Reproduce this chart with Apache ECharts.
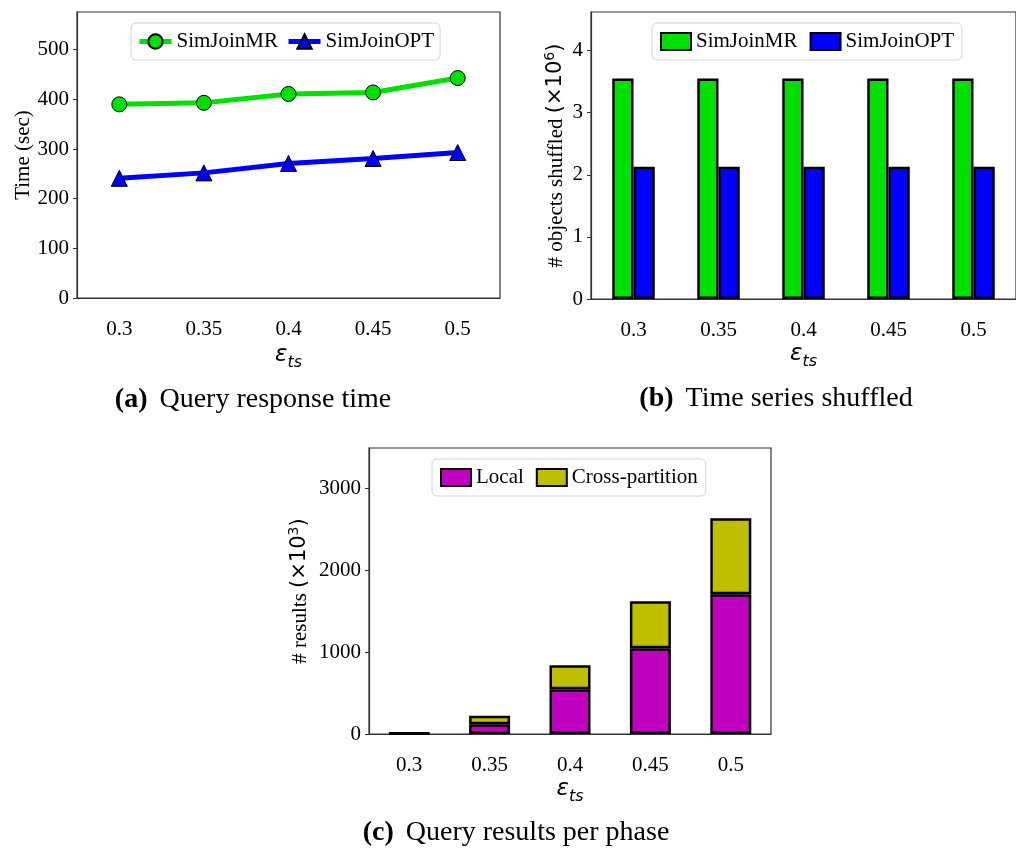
<!DOCTYPE html>
<html>
<head>
<meta charset="utf-8">
<style>
  html, body { margin: 0; padding: 0; background: #fff; }
  #chart { width: 1016px; height: 849px; }
</style>
<script src="https://cdn.jsdelivr.net/npm/echarts@6/dist/echarts.min.js"></script>
</head>
<body>
<div id="chart"></div>
<script>
// Similarity-join experiments against the threshold epsilon_ts
const categories = ['0.3', '0.35', '0.4', '0.45', '0.5'];

// (a) query response time, seconds
const timeMR = [390, 393, 411, 414, 443];
const timeOPT = [241, 252, 271, 281, 293];
const timeTicks = [0, 100, 200, 300, 400, 500];

// (b) objects shuffled, millions
const shuffledMR = [3.55, 3.55, 3.55, 3.55, 3.55];
const shuffledOPT = [2.13, 2.13, 2.13, 2.13, 2.13];
const shuffledTicks = [0, 1, 2, 3, 4];

// (c) query results per phase, thousands
const resultsLocal = [8, 118, 546, 1046, 1706];
const resultsCross = [4, 106, 293, 574, 928];
const resultsTicks = [0, 1000, 2000, 3000];

const SERIF = '"Liberation Serif", "Times New Roman", serif';
const SANS = '"DejaVu Sans", sans-serif';
const FRAME = '#333';
const TICK_FONT = 21;

const C_GREEN = '#00e000';
const C_BLUE = '#0000ff';
const C_MAGENTA = '#bf00bf';
const C_OLIVE = '#bfbf00';

// italic epsilon with "ts" subscript
const epsName = {
  name: '{e|ε}{s|ts}',
  nameTextStyle: {
    rich: {
      e: { fontFamily: SANS, fontStyle: 'italic', fontSize: 23, color: '#000', padding: [0, 0, 4, 0] },
      s: { fontFamily: SANS, fontStyle: 'italic', fontSize: 16, color: '#000', padding: [10, 0, 0, 0] }
    }
  }
};

function xAxisFor(gridIndex, labelMargin, nameGap) {
  return Object.assign({
    type: 'category',
    gridIndex: gridIndex,
    data: categories,
    boundaryGap: true,
    nameLocation: 'middle',
    nameGap: nameGap,
    axisLine: { lineStyle: { color: FRAME, width: 1.2 } },
    axisTick: { alignWithLabel: true, length: 4, lineStyle: { color: FRAME } },
    axisLabel: { fontFamily: SERIF, fontSize: TICK_FONT, color: '#000', margin: labelMargin },
    splitLine: { show: false }
  }, epsName);
}

function yAxisFor(gridIndex, max, ticks, name, rich, nameGap) {
  return {
    type: 'value',
    gridIndex: gridIndex,
    min: 0,
    max: max,
    name: name,
    nameLocation: 'middle',
    nameRotate: 90,
    nameGap: nameGap,
    nameTextStyle: { fontFamily: SERIF, fontSize: 21, color: '#000', rich: rich },
    axisLine: { show: true, lineStyle: { color: FRAME, width: 1.2 } },
    axisTick: { show: true, length: 4, customValues: ticks, lineStyle: { color: FRAME } },
    axisLabel: {
      fontFamily: SERIF, fontSize: TICK_FONT, color: '#000', margin: 8,
      customValues: ticks,
      formatter: function (v) { return String(v); }
    },
    splitLine: { show: false }
  };
}

const legendBase = {
  orient: 'horizontal',
  padding: [8, 8],
  itemGap: 12,
  borderColor: '#d4d4d4',
  borderWidth: 1,
  borderRadius: 5,
  backgroundColor: '#fff',
  textStyle: { fontFamily: SERIF, fontSize: 21, color: '#000' }
};

const patchStyle = { borderColor: '#000', borderWidth: 2 };

const chart = echarts.init(document.getElementById('chart'), null, { renderer: 'canvas' });

chart.setOption({
  animation: false,
  backgroundColor: '#fff',
  grid: [
    { left: 77, top: 12, right: 516, bottom: 551, show: true, borderColor: FRAME, borderWidth: 1.2 },
    { left: 591, top: 12, right: -12, bottom: 550, show: true, borderColor: FRAME, borderWidth: 1.2 },
    { left: 369, top: 448, right: 245, bottom: 115, show: true, borderColor: FRAME, borderWidth: 1.2 }
  ],
  xAxis: [
    xAxisFor(0, 21, 46),
    xAxisFor(1, 21, 44),
    xAxisFor(2, 21, 44)
  ],
  yAxis: [
    yAxisFor(0, 576, timeTicks, 'Time (sec)', null, 42),
    yAxisFor(1, 4.62, shuffledTicks, '{t|# objects shuffled }{m|(×10}{p|6}{m|)}', {
      t: { fontFamily: SERIF, fontSize: 21, color: '#000' },
      m: { fontFamily: SANS, fontSize: 21, color: '#000' },
      p: { fontFamily: SANS, fontSize: 14, color: '#000', padding: [0, 0, 12, 0] }
    }, 22),
    yAxisFor(2, 3490, resultsTicks, '{t|# results }{m|(×10}{p|3}{m|)}', {
      t: { fontFamily: SERIF, fontSize: 21, color: '#000' },
      m: { fontFamily: SANS, fontSize: 21, color: '#000' },
      p: { fontFamily: SANS, fontSize: 14, color: '#000', padding: [0, 0, 12, 0] }
    }, 56)
  ],
  legend: [
    Object.assign({}, legendBase, {
      left: 131, top: 23,
      itemWidth: 32, itemHeight: 18,
      itemGap: 8,
      padding: [8, 6],
      data: [
        { name: 'SimJoinMR', lineStyle: { width: 5 } },
        { name: 'SimJoinOPT', lineStyle: { width: 5 } }
      ]
    }),
    Object.assign({}, legendBase, {
      left: 652, top: 23,
      itemWidth: 30, itemHeight: 17,
      icon: 'rect',
      data: [
        { name: 'SimJoinMR ', itemStyle: patchStyle },
        { name: 'SimJoinOPT ', itemStyle: patchStyle }
      ],
      formatter: function (n) { return n.trim(); }
    }),
    Object.assign({}, legendBase, {
      left: 432, top: 459,
      itemWidth: 30, itemHeight: 17,
      icon: 'rect',
      data: [
        { name: 'Local', itemStyle: patchStyle },
        { name: 'Cross-partition', itemStyle: patchStyle }
      ]
    })
  ],
  series: [
    {
      name: 'SimJoinMR', type: 'line', xAxisIndex: 0, yAxisIndex: 0,
      data: timeMR,
      symbol: 'circle', symbolSize: 15,
      lineStyle: { color: C_GREEN, width: 5 },
      itemStyle: { color: C_GREEN, borderColor: '#000', borderWidth: 1 }
    },
    {
      name: 'SimJoinOPT', type: 'line', xAxisIndex: 0, yAxisIndex: 0,
      data: timeOPT,
      symbol: 'triangle', symbolSize: 16,
      lineStyle: { color: C_BLUE, width: 5 },
      itemStyle: { color: C_BLUE, borderColor: '#000', borderWidth: 1 }
    },
    {
      name: 'SimJoinMR ', type: 'bar', xAxisIndex: 1, yAxisIndex: 1,
      data: shuffledMR,
      barWidth: '25%', barGap: '0%',
      itemStyle: { color: C_GREEN, borderColor: '#000', borderWidth: 2.5 }
    },
    {
      name: 'SimJoinOPT ', type: 'bar', xAxisIndex: 1, yAxisIndex: 1,
      data: shuffledOPT,
      barWidth: '25%', barGap: '0%',
      itemStyle: { color: C_BLUE, borderColor: '#000', borderWidth: 2.5 }
    },
    {
      name: 'Local', type: 'bar', xAxisIndex: 2, yAxisIndex: 2, stack: 'results',
      data: resultsLocal,
      barWidth: '51%',
      itemStyle: { color: C_MAGENTA, borderColor: '#000', borderWidth: 2.5 }
    },
    {
      name: 'Cross-partition', type: 'bar', xAxisIndex: 2, yAxisIndex: 2, stack: 'results',
      data: resultsCross,
      barWidth: '51%',
      itemStyle: { color: C_OLIVE, borderColor: '#000', borderWidth: 2.5 }
    }
  ],
  graphic: [
    {
      type: 'text', x: 253, y: 400,
      style: {
        text: '{b|(a)}{n|Query response time}',
        align: 'center', verticalAlign: 'middle',
        rich: {
          b: { fontFamily: SERIF, fontWeight: 'bold', fontSize: 28, fill: '#000', padding: [0, 12, 0, 0] },
          n: { fontFamily: SERIF, fontSize: 28, fill: '#000' }
        }
      }
    },
    {
      type: 'text', x: 776, y: 399,
      style: {
        text: '{b|(b)}{n|Time series shuffled}',
        align: 'center', verticalAlign: 'middle',
        rich: {
          b: { fontFamily: SERIF, fontWeight: 'bold', fontSize: 28, fill: '#000', padding: [0, 12, 0, 0] },
          n: { fontFamily: SERIF, fontSize: 28, fill: '#000' }
        }
      }
    },
    {
      type: 'text', x: 516, y: 833,
      style: {
        text: '{b|(c)}{n|Query results per phase}',
        align: 'center', verticalAlign: 'middle',
        rich: {
          b: { fontFamily: SERIF, fontWeight: 'bold', fontSize: 28, fill: '#000', padding: [0, 12, 0, 0] },
          n: { fontFamily: SERIF, fontSize: 28, fill: '#000' }
        }
      }
    }
  ]
});
</script>
</body>
</html>
